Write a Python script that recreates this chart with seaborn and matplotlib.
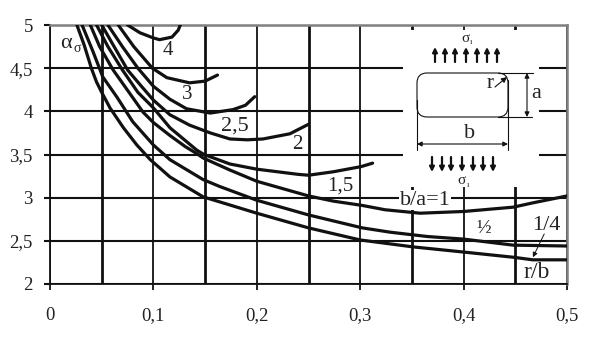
# Stress concentration chart, alpha vs r/b for several b/a ratios
import matplotlib
matplotlib.use("Agg")
import matplotlib.pyplot as plt
import seaborn as sns
from matplotlib.patches import FancyBboxPatch, Rectangle

# curves
x_14 = [.026, .033, .04, .045, .05, .058, .071, .084, .097, .116, .148, .2, .25, .3, .351, .4, .448, .467, .5]
y_14 = [5, 4.77, 4.5, 4.34, 4.22, 4.04, 3.81, 3.61, 3.44, 3.24, 3.01, 2.82, 2.65, 2.51, 2.43, 2.37, 2.31, 2.28, 2.28]
x_12 = [.031, .041, .051, .065, .08, .1, .116, .148, .164, .2, .25, .302, .329, .365, .4, .448, .5]
y_12 = [5, 4.71, 4.40, 4.16, 3.88, 3.61, 3.44, 3.21, 3.13, 2.97, 2.80, 2.65, 2.60, 2.55, 2.52, 2.45, 2.44]
x_1 = [.039, .048, .061, .077, .09, .1, .116, .131, .142, .148, .174, .2, .25, .274, .302, .324, .358, .4, .448, .467, .5]
y_1 = [5, 4.75, 4.48, 4.21, 3.99, 3.87, 3.72, 3.59, 3.51, 3.46, 3.32, 3.19, 3.02, 2.96, 2.91, 2.86, 2.82, 2.84, 2.89, 2.94, 3.02]
x_15 = [.045, .056, .07, .085, .1, .116, .131, .142, .149, .174, .2, .24, .25, .274, .301, .312]
y_15 = [5, 4.75, 4.48, 4.22, 4.04, 3.81, 3.66, 3.55, 3.50, 3.39, 3.33, 3.27, 3.26, 3.30, 3.36, 3.40]
x_2 = [.05, .062, .075, .087, .1, .116, .135, .155, .174, .191, .206, .232, .25]
y_2 = [5, 4.75, 4.48, 4.31, 4.13, 3.96, 3.84, 3.75, 3.68, 3.67, 3.68, 3.74, 3.85]
x_25 = [.056, .07, .085, .1, .116, .132, .155, .177, .189, .198]
y_25 = [5, 4.75, 4.5, 4.29, 4.14, 4.03, 3.98, 4.02, 4.07, 4.17]
x_3 = [.066, .081, .099, .113, .135, .15, .162]
y_3 = [5, 4.75, 4.5, 4.39, 4.33, 4.35, 4.42]
x_4 = [.075, .087, .1, .106, .118, .124, .126]
y_4 = [5, 4.91, 4.85, 4.83, 4.86, 4.94, 5]

curves = [(x_14, y_14), (x_12, y_12), (x_1, y_1), (x_15, y_15),
          (x_2, y_2), (x_25, y_25), (x_3, y_3), (x_4, y_4)]

x_ticks = [0, .1, .2, .3, .4, .5]
x_labels = ['0', '0,1', '0,2', '0,3', '0,4', '0,5']
y_ticks = [2, 2.5, 3, 3.5, 4, 4.5, 5]
y_labels = ['2', '2,5', '3', '3,5', '4', '4,5', '5']
x_minor = [.05, .15, .25, .35, .45]

sns.set_style("white")
plt.rcParams['font.family'] = ['Liberation Serif', 'DejaVu Serif']

W, H = 589, 340
TXT = '#222222'
fig = plt.figure(figsize=(W / 100, H / 100), dpi=100)
ax = fig.add_axes([50 / W, 1 - 284 / H, 517 / W, 259 / H])

for xs, ys in curves:
    sns.lineplot(x=xs, y=ys, ax=ax, color='#111111', linewidth=2.3, sort=False,
                 estimator=None, zorder=3, solid_joinstyle='round')

ax.set_xlim(0, .5)
ax.set_ylim(2, 5)
ax.set_xticks(x_ticks)
ax.set_xticklabels(x_labels, fontsize=13.5, color=TXT)
ax.set_yticks(y_ticks)
ax.set_yticklabels(y_labels, fontsize=13.5, color=TXT)
ax.set_xticks(x_minor, minor=True)
ax.tick_params(axis='x', which='major', length=4.3, width=1.3, color='#111111', bottom=True, pad=12)
ax.tick_params(axis='x', which='minor', length=0)
ax.tick_params(axis='y', which='major', length=4.3, width=1.5, color='#111111', left=True, pad=8)
ax.set_axisbelow(True)
ax.grid(axis='y', color='#111111', linewidth=1.5)
ax.grid(axis='x', which='major', color='#111111', linewidth=1.3)
ax.grid(axis='x', which='minor', color='#111111', linewidth=2.0)
for side in ['left', 'bottom']:
    ax.spines[side].set_color('#111111')
    ax.spines[side].set_linewidth(1.3)
for side in ['top', 'right']:
    ax.spines[side].set_color('#808080')
    ax.spines[side].set_linewidth(1.8)

# white hole in the grid for the sketch
ax.add_patch(Rectangle((.341, 3.125), .132, 1.815, facecolor='white', edgecolor='none', zorder=1.5))

# curve labels
ax.text(.114, 4.71, '4', fontsize=15, ha='center', va='center', color=TXT)
ax.text(.133, 4.19, '3', fontsize=15, ha='center', va='center', color=TXT)
ax.text(.179, 3.83, '2,5', fontsize=16, ha='center', va='center', color=TXT)
ax.text(.239, 3.62, '2', fontsize=15, ha='center', va='center', color=TXT)
ax.text(.281, 3.14, '1,5', fontsize=15, ha='center', va='center', color=TXT)
ax.text(.363, 2.97, 'b/a=1', fontsize=16, ha='center', va='center', color=TXT, zorder=2,
        bbox=dict(facecolor='white', edgecolor='none', pad=0.3))
ax.text(.419, 2.65, '½', fontsize=14, ha='center', va='center', color=TXT)
ax.text(.48, 2.68, '1/4', fontsize=16, ha='center', va='center', color=TXT)
ax.text(.471, 2.13, 'r/b', fontsize=17, ha='center', va='center', color=TXT)
ax.text(.015, 4.79, 'α', fontsize=16, ha='center', va='center', color=TXT)
ax.text(.0265, 4.73, 'σ', fontsize=10, ha='center', va='center', color=TXT)
ax.annotate('', xy=(.467, 2.31), xytext=(.478, 2.58),
            arrowprops=dict(arrowstyle='-|>', color='#111111', lw=0.7, mutation_scale=7, shrinkA=0, shrinkB=0))

# sketch of the plate, drawn on a pixel overlay
sk = fig.add_axes([0, 0, 1, 1], facecolor='none')
sk.set_xlim(0, W)
sk.set_ylim(H, 0)
sk.axis('off')

sk.add_patch(FancyBboxPatch((427, 83), 71, 24, boxstyle='round,pad=10,rounding_size=10',
                            facecolor='none', edgecolor='#111111', linewidth=0.8))
sk.plot([498, 533], [73, 73], color='#111111', lw=0.8)
sk.plot([498, 532], [117, 117], color='#111111', lw=0.8)
sk.plot([417, 417], [100, 150], color='#111111', lw=0.8)
sk.plot([508, 508], [80, 150], color='#111111', lw=0.8)


def arrow(x0, y0, x1, y1, lw=0.8, size=7, style='-|>'):
    sk.annotate('', xy=(x1, y1), xytext=(x0, y0),
                arrowprops=dict(arrowstyle=style, color='#111111', lw=lw, mutation_scale=size,
                                shrinkA=0, shrinkB=0))


arrow(417, 144, 508, 144, style='<|-|>')
arrow(527, 73, 527, 117, style='<|-|>')
arrow(495, 87, 507, 77, size=8)
for px in [435, 445, 455, 466, 477, 487, 497]:
    arrow(px, 62, px, 47, lw=1.6, size=7)
for px in [432, 442, 451, 462, 473, 483, 493]:
    arrow(px, 157, px, 172, lw=1.6, size=7)

sk.text(470, 134, 'b', fontsize=16, ha='center', va='center', color=TXT)
sk.text(536, 94, 'a', fontsize=16, ha='center', va='center', color=TXT)
sk.text(490, 83, 'r', fontsize=15, ha='center', va='center', color=TXT)
sk.text(465, 38, 'σ', fontsize=11, ha='center', va='center', color=TXT)
sk.text(471, 42, 'ı', fontsize=6, ha='center', va='center', color=TXT)
sk.text(462, 181, 'σ', fontsize=11, ha='center', va='center', color=TXT)
sk.text(468, 185, 'ı', fontsize=6, ha='center', va='center', color=TXT)

fig.savefig('out.png', dpi=100, facecolor='white')
